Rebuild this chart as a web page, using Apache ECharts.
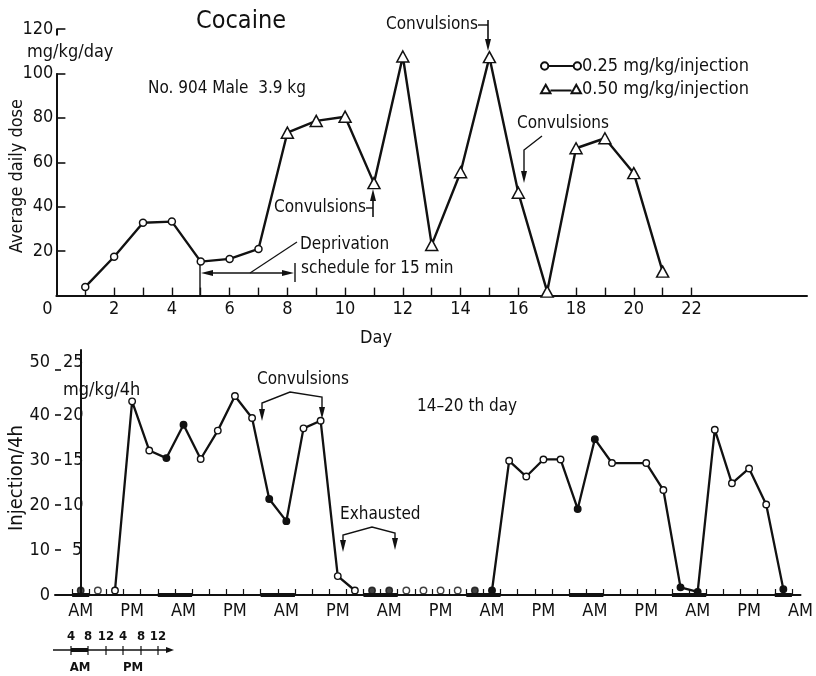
<!DOCTYPE html>
<html><head><meta charset="utf-8">
<script src="https://cdn.jsdelivr.net/npm/echarts@6/dist/echarts.min.js"></script>
<style>html,body{margin:0;padding:0;background:#fff}#c{width:816px;height:676px}</style>
</head><body><div id="c"></div>
<script>
const FONT = "'Liberation Sans Narrow','DejaVu Sans Condensed','Liberation Sans','DejaVu Sans',sans-serif";
const INK = '#111';

// ---------- Top panel: average daily dose ----------
const days025 = [1, 2, 3, 4, 5, 6, 7];
const dose025 = [3.9, 17.5, 32.8, 33.3, 15.3, 16.5, 21.0];
const days050 = [8, 9, 10, 11, 12, 13, 14, 15, 16, 17, 18, 19, 20, 21];
const dose050 = [73.3, 78.6, 80.5, 50.6, 107.6, 22.8, 55.5, 107.3, 46.3, 1.8, 66.3, 70.8, 55.1, 10.8];
const dayTickLabels = [0, 2, 4, 6, 8, 10, 12, 14, 16, 18, 20, 22];
const dayTicks = [1, 2, 3, 4, 5, 6, 7, 8, 9, 10, 11, 12, 13, 14, 15, 16, 17, 18, 19, 20, 21, 22];
const doseTickLabels = [20, 40, 60, 80, 100, 120];

// ---------- Bottom panel: injections per 4 h (days 14-20) ----------
const injections = [1, 1, 1, 43.0, 32.1, 30.4, 37.8, 30.2, 36.5, 44.2, 39.3, 21.3, 16.4, 37.0, 38.7, 4.2, 1.0,
  1, 1, 1, 1, 1, 1, 1,
  1, 29.8, 26.3, 30.1, 30.1, 19.1, 34.6, 29.3, 29.3, 29.3, 23.3, 1.7, 0.7, 36.7, 24.8, 28.1, 20.1, 1.3];
const darkBins = [0, 5, 6, 11, 12, 17, 18, 23, 24, 29, 30, 35, 36, 41];
const connectedRuns = [[2, 16], [24, 41]];
const noSymbolBins = [32];
const amBins = [0, 6, 12, 18, 24, 30, 36, 42];
const pmBins = [3, 9, 15, 21, 27, 33, 39];
const injTickLabels = [0, 10, 20, 30, 40, 50];
const mgTickLabels = [5, 10, 15, 20, 25];

// ---------- derived ----------
const inRun = i => connectedRuns.some(r => i >= r[0] && i <= r[1]);
const isDark = i => darkBins.indexOf(i) >= 0;
const ptStyle = i => ({ color: isDark(i) ? INK : '#fff', borderColor: INK, borderWidth: 1.4 });
const lineData = injections.map((v, i) => inRun(i)
  ? { value: [i, v], symbol: noSymbolBins.indexOf(i) >= 0 ? 'none' : 'circle', itemStyle: ptStyle(i) }
  : { value: [i, '-'] });
const isoData = injections.map((v, i) => ({ v, i })).filter(o => !inRun(o.i))
  .map(o => ({ value: [o.i, o.v], itemStyle: ptStyle(o.i) }));
const darkRuns = [];
darkBins.forEach(b => {
  const last = darkRuns[darkRuns.length - 1];
  if (last && last[1] === b - 1) last[1] = b; else darkRuns.push([b, b]);
});
const darkBarLines = darkRuns.map(r => [{ coord: [r[0] - 0.5, 0] }, { coord: [r[1] + 0.5, 0] }]);
const binEdges = [];
for (let i = 0; i < injections.length; i++) binEdges.push(i - 0.5);
binEdges.push(injections.length - 0.5);
const timeLabelValues = amBins.concat(pmBins).sort((a, b) => a - b);

const T = (x, y, text, o) => ({ type: 'text', x, y, silent: true,
  style: Object.assign({ text, fontFamily: FONT, fontSize: 17, fill: INK, align: 'left', verticalAlign: 'middle' }, o || {}) });
const PL = (pts, w) => ({ type: 'polyline', silent: true, shape: { points: pts }, style: { stroke: INK, lineWidth: w || 1.4, fill: null } });
const HEAD = (x, y, dir) => {
  const L = 12, W = 3;
  let pts;
  if (dir === 'down') pts = [[x - W, y - L], [x + W, y - L], [x, y]];
  else if (dir === 'up') pts = [[x - W, y + L], [x + W, y + L], [x, y]];
  else if (dir === 'left') pts = [[x + L, y - W], [x + L, y + W], [x, y]];
  else pts = [[x - L, y - W], [x - L, y + W], [x, y]];
  return { type: 'polygon', silent: true, shape: { points: pts }, style: { fill: INK } };
};

const graphics = [
  T(241, 21, 'Cocaine', { fontSize: 25, align: 'center' }),
  T(27, 52, 'mg/kg/day', { fontSize: 18 }),
  T(148, 89, 'No. 904 Male  3.9 kg'),
  T(376, 338, 'Day', { align: 'center', fontSize: 18 }),
  { type: 'text', x: 17, y: 176, rotation: Math.PI / 2, silent: true,
    style: { text: 'Average daily dose', fontFamily: FONT, fontSize: 18, fill: INK, align: 'center', verticalAlign: 'middle' } },
  // convulsions (day 11)
  T(366, 208, 'Convulsions', { align: 'right' }),
  PL([[366, 208], [373, 208]]), PL([[373, 217], [373, 198]], 1.6), HEAD(373, 189, 'up'),
  // convulsions (day 15)
  T(478, 25, 'Convulsions', { align: 'right' }),
  PL([[478, 25], [488, 25]]), PL([[488, 20], [488, 40]], 1.6), HEAD(488, 51, 'down'),
  // convulsions (day 16)
  T(517, 124, 'Convulsions'),
  PL([[542, 136], [524, 150], [524, 172]]), HEAD(524, 183, 'down'),
  // deprivation schedule
  T(300, 245, 'Deprivation'),
  T(301, 269, 'schedule for 15 min'),
  PL([[200, 262], [200, 296]], 1.4), PL([[295, 263], [295, 282]], 1.4),
  PL([[210, 273], [285, 273]], 1.4), HEAD(201, 273, 'left'), HEAD(294, 273, 'right'),
  PL([[250, 273], [297, 242]], 1.2),
  // bottom panel
  T(63, 390, 'mg/kg/4h', { fontSize: 18 }),
  { type: 'text', x: 17, y: 478, rotation: Math.PI / 2, silent: true,
    style: { text: 'Injection/4h', fontFamily: FONT, fontSize: 20, fill: INK, align: 'center', verticalAlign: 'middle' } },
  T(417, 407, '14–20 th day'),
  T(257, 380, 'Convulsions'),
  PL([[262, 410], [262, 403], [290, 392], [322, 397], [322, 408]]), HEAD(262, 421, 'down'), HEAD(322, 419, 'down'),
  T(340, 515, 'Exhausted'),
  PL([[343, 541], [343, 535], [372, 527], [395, 533], [395, 539]]), HEAD(343, 552, 'down'), HEAD(395, 550, 'down'),
  // mini time key
  PL([[53, 650], [170, 650]], 1.4),
  { type: 'polygon', silent: true, shape: { points: [[166, 647], [166, 653], [174, 650]] }, style: { fill: INK } },
  PL([[71, 650], [88, 650]], 4),
];
[71, 88, 106, 123, 141, 158].forEach((x, k) => {
  graphics.push(PL([[x, 646], [x, 655]], 1.2));
  graphics.push(T(x, 637, ['4', '8', '12', '4', '8', '12'][k], { fontSize: 13, align: 'center', fontWeight: 'bold' }));
});
graphics.push(T(80, 668, 'AM', { fontSize: 13, align: 'center', fontWeight: 'bold' }));
graphics.push(T(133, 668, 'PM', { fontSize: 13, align: 'center', fontWeight: 'bold' }));

const circleIcon = 'path://M0.4,5 A3.4,3.4 0 1 1 7.2,5 A3.4,3.4 0 1 1 0.4,5 Z M7.2,5 L30.8,5 M30.8,5 A3.4,3.4 0 1 1 37.6,5 A3.4,3.4 0 1 1 30.8,5 Z';
const triIcon = 'path://M0,9 L4.5,1 L9,9 Z M9,6.5 L29,6.5 M29,9 L33.5,1 L38,9 Z';

const chart = echarts.init(document.getElementById('c'), null, { renderer: 'canvas' });
chart.setOption({
  animation: false,
  backgroundColor: '#fff',
  textStyle: { fontFamily: FONT },
  grid: [
    { left: 56.4, right: 9, top: 28.9, bottom: 380.4 },
    { left: 55, right: 11, top: 350, bottom: 81 }
  ],
  legend: {
    orient: 'vertical', left: 535, top: 52, itemWidth: 40, itemHeight: 10, itemGap: 5,
    selectedMode: false,
    textStyle: { fontFamily: FONT, fontSize: 18, color: INK, padding: [0, 0, 0, -4] },
    data: [
      { name: '0.25 mg/kg/injection', icon: circleIcon, itemStyle: { color: '#fff', borderColor: INK, borderWidth: 2 } },
      { name: '0.50 mg/kg/injection', icon: triIcon, itemStyle: { color: '#fff', borderColor: INK, borderWidth: 2 } }
    ]
  },
  xAxis: [
    {
      type: 'value', gridIndex: 0, min: 0, max: 26,
      axisLine: { show: true, lineStyle: { color: INK, width: 2 } },
      axisTick: { show: true, inside: true, length: 8, customValues: dayTicks, lineStyle: { color: INK, width: 1.4 } },
      axisLabel: {
        show: true, margin: 5, customValues: dayTickLabels, color: INK, fontFamily: FONT, fontSize: 18,
        formatter: v => v === 0 ? '{z|0}' : String(v),
        rich: { z: { fontFamily: FONT, fontSize: 18, color: INK, padding: [0, 18, 0, 0] } }
      },
      splitLine: { show: false }
    },
    {
      type: 'value', gridIndex: 1, min: -1.5, max: 42,
      axisLine: { show: true, lineStyle: { color: INK, width: 2 } },
      axisTick: { show: true, inside: true, length: 6, customValues: binEdges, lineStyle: { color: INK, width: 1.2 } },
      axisLabel: {
        show: true, margin: 7, customValues: timeLabelValues, color: INK, fontFamily: FONT, fontSize: 18,
        formatter: v => amBins.indexOf(v) >= 0 ? 'AM' : 'PM'
      },
      splitLine: { show: false }
    }
  ],
  yAxis: [
    {
      type: 'value', gridIndex: 0, min: 0, max: 120,
      axisLine: { show: false },
      axisTick: { show: true, inside: true, length: 9, customValues: doseTickLabels, lineStyle: { color: INK, width: 1.6 } },
      axisLabel: { show: true, margin: 3, customValues: doseTickLabels, color: INK, fontFamily: FONT, fontSize: 18 },
      splitLine: { show: false }
    },
    {
      type: 'value', gridIndex: 1, min: 0, max: 54.4,
      axisLine: { show: true, lineStyle: { color: INK, width: 2 } },
      axisTick: { show: false },
      axisLabel: {
        show: true, margin: 5, customValues: injTickLabels, color: INK, fontFamily: FONT, fontSize: 18,
        formatter: v => v === 50 ? '{u|50}' : String(v),
        rich: { u: { fontFamily: FONT, fontSize: 18, color: INK, padding: [0, 0, 14, 0] } }
      },
      splitLine: { show: false }
    },
    {
      type: 'value', gridIndex: 1, min: 0, max: 27.2, position: 'left',
      axisLine: { show: false },
      axisTick: { show: true, inside: true, length: 6, customValues: mgTickLabels, lineStyle: { color: INK, width: 1.6 } },
      axisLabel: {
        show: true, inside: true, margin: 8, customValues: mgTickLabels, color: INK, fontFamily: FONT, fontSize: 18,
        formatter: v => v === 5 ? '{p|5}' : (v === 25 ? '{u|25}' : String(v)),
        rich: {
          p: { fontFamily: FONT, fontSize: 18, color: INK, padding: [0, 0, 0, 9] },
          u: { fontFamily: FONT, fontSize: 18, color: INK, padding: [0, 0, 14, 0] }
        }
      },
      splitLine: { show: false }
    }
  ],
  series: [
    {
      type: 'line', name: '0.25 mg/kg/injection', xAxisIndex: 0, yAxisIndex: 0, z: 4, clip: false,
      data: days025.map((d, i) => [d, dose025[i]]),
      symbol: 'circle', symbolSize: 7,
      lineStyle: { color: INK, width: 2.4 },
      itemStyle: { color: '#fff', borderColor: INK, borderWidth: 1.5 },
      markLine: {
        silent: true, symbol: ['none', 'none'], label: { show: false }, animation: false,
        lineStyle: { color: INK, width: 2, type: 'solid' }, emphasis: { disabled: true },
        data: [[{ coord: [0, 0] }, { coord: [0, 100] }], [{ coord: [0, 117] }, { coord: [0, 120] }]]
      }
    },
    {
      type: 'line', name: '0.50 mg/kg/injection', xAxisIndex: 0, yAxisIndex: 0, z: 3, clip: false,
      data: [{ value: [days025[days025.length - 1], dose025[dose025.length - 1]], symbol: 'none' }]
        .concat(days050.map((d, i) => [d, dose050[i]])),
      symbol: 'triangle', symbolSize: [12, 11],
      lineStyle: { color: INK, width: 2.4 },
      itemStyle: { color: '#fff', borderColor: INK, borderWidth: 1.5 }
    },
    {
      type: 'line', name: 'injections', xAxisIndex: 1, yAxisIndex: 1, z: 3, clip: false,
      data: lineData, connectNulls: false,
      symbol: 'circle', symbolSize: 6.5,
      lineStyle: { color: INK, width: 2.3 }
    },
    {
      type: 'scatter', name: 'injections-isolated', xAxisIndex: 1, yAxisIndex: 1, z: 3, clip: false,
      data: isoData, symbol: 'circle', symbolSize: 6.5,
      markLine: {
        silent: true, symbol: ['none', 'none'], label: { show: false }, animation: false,
        lineStyle: { color: INK, width: 4, type: 'solid' }, emphasis: { disabled: true },
        data: darkBarLines
      }
    }
  ],
  graphic: graphics
});
</script>
</body></html>
